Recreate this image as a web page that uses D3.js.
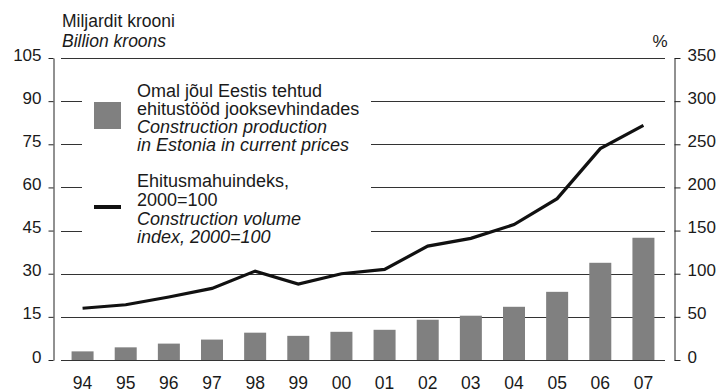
<!DOCTYPE html>
<html>
<head>
<meta charset="utf-8">
<script src="https://cdn.jsdelivr.net/npm/d3@7"></script>
<style>
  html, body { margin: 0; padding: 0; background: #fff; }
  svg { display: block; font-family: "Liberation Sans", Arial, sans-serif; }
</style>
</head>
<body>
<svg id="chart" width="721" height="392"></svg>
<script>
// Years shown on the category axis
const years = ["94","95","96","97","98","99","00","01","02","03","04","05","06","07"];
// Construction production in Estonia, current prices (billion kroons, left axis)
const production = [3.0, 4.4, 5.7, 7.1, 9.5, 8.4, 9.8, 10.5, 14.0, 15.4, 18.5, 23.7, 33.8, 42.5];
// Construction volume index, 2000=100 (%, right axis)
const volumeIndex = [60, 64, 73, 83, 103, 88, 100, 105, 132, 141, 157, 187, 245, 272];
// Axis ticks
const leftTicks = [0, 15, 30, 45, 60, 75, 90, 105];
const rightTicks = [0, 50, 100, 150, 200, 250, 300, 350];
// Gridlines that run behind the legend are interrupted there
const gridBroken = [45, 60, 75, 90];

const svg = d3.select("#chart");
const plot = { left: 61, right: 665, top: 58, bottom: 360 };
const axisLeftX = 53, axisRightX = 674;
const legendGap = [82, 371];
const textColor = "#1a1a1a";
const barColor = "#808080";

const x = d3.scaleBand().domain(years).range([plot.left, plot.right])
  .paddingInner(0.49).paddingOuter(0.245);
const yL = d3.scaleLinear().domain([0, 105]).range([plot.bottom, plot.top]);
const yR = d3.scaleLinear().domain([0, 350]).range([plot.bottom, plot.top]);

// Gridlines
const grid = svg.append("g").attr("stroke", "#333").attr("stroke-width", 1);
leftTicks.forEach(v => {
  const yy = Math.round(yL(v)) + 0.5;
  if (gridBroken.includes(v)) {
    grid.append("line").attr("x1", plot.left).attr("x2", legendGap[0]).attr("y1", yy).attr("y2", yy);
    grid.append("line").attr("x1", legendGap[1]).attr("x2", plot.right).attr("y1", yy).attr("y2", yy);
  } else {
    grid.append("line").attr("x1", plot.left).attr("x2", plot.right).attr("y1", yy).attr("y2", yy);
  }
});

// Bars
svg.append("g").selectAll("rect").data(production).join("rect")
  .attr("x", (d, i) => x(years[i]))
  .attr("width", x.bandwidth())
  .attr("y", d => yL(d))
  .attr("height", d => yL(0) - yL(d))
  .attr("fill", barColor);

// Volume index line
const line = d3.line()
  .x((d, i) => x(years[i]) + x.bandwidth() / 2)
  .y(d => yR(d));
svg.append("path").datum(volumeIndex)
  .attr("d", line)
  .attr("fill", "none")
  .attr("stroke", "#111")
  .attr("stroke-width", 3.2)
  .attr("stroke-linejoin", "miter");

// Left axis
const gL = svg.append("g").attr("transform", `translate(${axisLeftX + 0.5},0)`)
  .call(d3.axisLeft(yL).tickValues(leftTicks).tickSize(5).tickSizeOuter(0).tickPadding(7));
// Right axis
const gR = svg.append("g").attr("transform", `translate(${axisRightX + 0.5},0)`)
  .call(d3.axisRight(yR).tickValues(rightTicks).tickSize(6).tickSizeOuter(0).tickPadding(7));
[gL, gR].forEach(g => {
  g.selectAll("path.domain").attr("stroke", "#222");
  g.selectAll(".tick line").attr("stroke", "#222");
  g.selectAll(".tick text")
    .attr("font-size", 17)
    .attr("font-family", "Liberation Sans, Arial, sans-serif")
    .attr("fill", textColor)
    .attr("dy", "0.12em");
});

// Category labels
svg.append("g").selectAll("text").data(years).join("text")
  .attr("x", d => x(d) + x.bandwidth() / 2)
  .attr("y", 388.5)
  .attr("text-anchor", "middle")
  .attr("font-size", 17.5)
  .attr("fill", textColor)
  .text(d => d);

// Axis titles
svg.append("text").attr("x", 62).attr("y", 27).attr("font-size", 17.5).attr("fill", textColor)
  .text("Miljardit krooni");
svg.append("text").attr("x", 62).attr("y", 47).attr("font-size", 17.5).attr("font-style", "italic")
  .attr("fill", textColor).text("Billion kroons");
svg.append("text").attr("x", 660).attr("y", 47).attr("font-size", 17).attr("text-anchor", "middle")
  .attr("fill", textColor).text("%");

// Legend
const legend = svg.append("g");
legend.append("rect").attr("x", 94).attr("y", 102).attr("width", 27).attr("height", 27).attr("fill", barColor);
legend.append("line").attr("x1", 94).attr("x2", 121).attr("y1", 207).attr("y2", 207)
  .attr("stroke", "#111").attr("stroke-width", 4);

const legendText = [
  { y: 97,    t: "Omal jõul Eestis tehtud", it: false },
  { y: 115,   t: "ehitustööd jooksevhindades", it: false },
  { y: 133,   t: "Construction production", it: true },
  { y: 150.5, t: "in Estonia in current prices", it: true },
  { y: 186.5, t: "Ehitusmahuindeks,", it: false },
  { y: 205.5, t: "2000=100", it: false },
  { y: 224.5, t: "Construction volume", it: true },
  { y: 243,   t: "index, 2000=100", it: true }
];
legend.selectAll("text").data(legendText).join("text")
  .attr("x", 137)
  .attr("y", d => d.y)
  .attr("font-size", 18)
  .attr("font-style", d => d.it ? "italic" : "normal")
  .attr("fill", textColor)
  .text(d => d.t);
</script>
</body>
</html>
